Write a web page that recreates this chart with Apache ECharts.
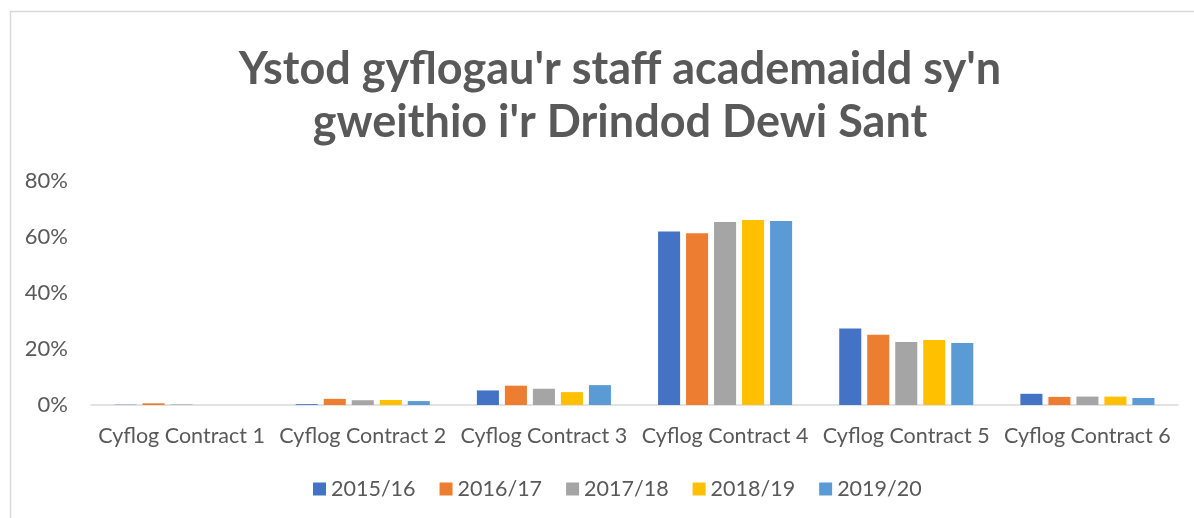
<!DOCTYPE html>
<html>
<head>
<meta charset="utf-8">
<script src="https://cdn.jsdelivr.net/npm/echarts@6/dist/echarts.min.js"></script>
<style>
  html, body { margin: 0; padding: 0; background: #fff; }
  #chart { width: 1194px; height: 518px; }
</style>
</head>
<body>
<div id="chart"></div>
<script>
const categories = ['Cyflog Contract 1', 'Cyflog Contract 2', 'Cyflog Contract 3', 'Cyflog Contract 4', 'Cyflog Contract 5', 'Cyflog Contract 6']
const years = ['2015/16', '2016/17', '2017/18', '2018/19', '2019/20']
const colors = ['#4472C4', '#ED7D31', '#A5A5A5', '#FFC000', '#5B9BD5']

// percentages
const y2015 = [0.1, 0.3, 5.2, 62.0, 27.3, 4.0]
const y2016 = [0.6, 2.2, 6.9, 61.3, 25.1, 2.9]
const y2017 = [0.2, 1.7, 5.8, 65.4, 22.5, 3.0]
const y2018 = [0.0, 1.8, 4.6, 66.1, 23.2, 3.0]
const y2019 = [0.0, 1.4, 7.1, 65.7, 22.1, 2.5]
const yTicks = [0, 20, 40, 60, 80]

const allValues = [y2015, y2016, y2017, y2018, y2019]
const font = 'Lato, "Open Sans", sans-serif'

const chart = echarts.init(document.getElementById('chart'))

chart.setOption({
  animation: false,
  textStyle: { fontFamily: font },
  graphic: [{
    type: 'rect',
    shape: { x: 10.5, y: 11.5, width: 1200, height: 520 },
    style: { fill: 'none', stroke: '#d9d9d9', lineWidth: 1.5 },
    silent: true
  }],
  title: {
    text: "Ystod gyflogau'r staff academaidd sy'n\ngweithio i'r Drindod Dewi Sant",
    left: 615,
    textAlign: 'center',
    top: 38,
    textStyle: {
      fontFamily: font,
      fontSize: 45,
      fontWeight: 'bold',
      color: '#595959',
      lineHeight: 53
    }
  },
  legend: {
    data: years,
    bottom: 13,
    left: 308,
    itemWidth: 13,
    itemHeight: 13,
    itemGap: 24,
    icon: 'rect',
    textStyle: { fontFamily: font, fontSize: 21.5, color: '#595959' }
  },
  grid: {
    left: 91,
    right: 16,
    top: 181,
    bottom: 113,
    containLabel: false
  },
  xAxis: {
    type: 'category',
    data: categories,
    axisLine: { lineStyle: { color: '#d9d9d9', width: 1.5 } },
    axisTick: { show: false },
    axisLabel: { fontFamily: font, fontSize: 21.5, color: '#595959', margin: 20, interval: 0 }
  },
  yAxis: {
    type: 'value',
    min: yTicks[0],
    max: yTicks[yTicks.length - 1],
    interval: 20,
    axisLine: { show: false },
    axisTick: { show: false },
    splitLine: { show: false },
    axisLabel: {
      fontFamily: font,
      fontSize: 22,
      color: '#595959',
      margin: 23,
      formatter: v => v + '%'
    }
  },
  series: years.map((name, i) => ({
    name,
    type: 'bar',
    data: allValues[i],
    barGap: '27%',
    barCategoryGap: '26%',
    itemStyle: { color: colors[i] }
  }))
})
</script>
</body>
</html>
